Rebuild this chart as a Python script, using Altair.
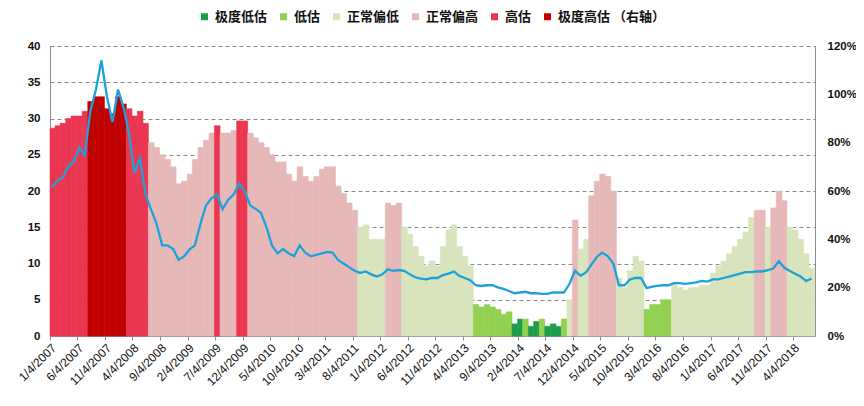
import altair as alt
import pandas as pd

# monthly readings, Jan 2007 .. Jul 2018
pe = [20.5, 21.5, 21.8, 23.4, 24.0, 26.0, 25.0, 31.0, 34.0, 38.0, 33.0, 29.5,
      34.0, 31.5, 28.0, 22.5, 24.5, 19.5, 17.5, 15.5, 12.5, 12.5, 12.0, 10.5,
      11.0, 12.0, 12.5, 15.5, 18.0, 19.0, 19.5, 17.5, 18.8, 19.5, 21.0, 20.0,
      18.0, 17.5, 17.0, 15.0, 12.5, 11.4, 12.0, 11.4, 11.0, 12.5, 11.5, 11.0,
      11.2, 11.4, 11.6, 11.5, 10.5, 10.0, 9.5, 9.0, 8.7, 8.9, 8.5, 8.2,
      8.5, 9.2, 9.0, 9.1, 9.0, 8.5, 8.1, 7.9, 7.8, 8.0, 8.0, 8.4,
      8.6, 8.9, 8.3, 8.0, 7.7, 7.0, 6.9, 7.0, 7.0, 6.7, 6.5, 6.2,
      5.9, 6.0, 6.1, 5.9, 5.9, 5.8, 5.8, 6.0, 6.0, 6.0, 7.2, 9.0,
      8.3, 8.8, 9.8, 10.9, 11.5, 11.0, 10.0, 7.0, 7.0, 7.8, 8.0, 8.0,
      6.6, 6.8, 6.9, 7.0, 7.0, 7.3, 7.3, 7.2, 7.3, 7.4, 7.6, 7.5,
      7.8, 7.8, 8.0, 8.2, 8.4, 8.6, 8.8, 8.8, 8.9, 8.9, 9.1, 9.3,
      10.3, 9.4, 9.0, 8.6, 8.2, 7.6, 7.9]

pct = [86, 87, 88, 90, 91, 91, 93, 97, 99, 99, 94, 92,
       99, 96, 94, 91, 93, 88, 80, 78, 75, 73, 70, 63,
       64, 67, 73, 78, 81, 84, 87, 84, 84, 85, 89, 89,
       84, 82, 80, 78, 75, 72, 72, 67, 64, 70, 66, 64,
       66, 69, 70, 70, 62, 59, 55, 52, 45, 46, 40, 40,
       40, 55, 54, 55, 45, 42, 37, 33, 29, 31, 29, 37,
       44, 46, 37, 33, 29, 13, 12, 13, 12, 11, 9, 10,
       5, 7, 7, 4, 6, 7, 4, 5, 4, 7, 15, 48,
       36, 40, 58, 64, 67, 66, 60, 24, 20, 27, 33, 31,
       11, 13, 13, 15, 15, 22, 20, 19, 20, 20, 21, 21,
       26, 29, 31, 34, 37, 40, 43, 49, 52, 52, 45, 53,
       60, 56, 45, 44, 40, 34, 28]

state_codes = ("EEEEEEEFFFFF" "FFEEEEDDDDDD" "DDDDDDEDDDEE" "DDDDDDDDDDDD"
               "DDDDDDDDCCCC" "CDDDCCCCCCCC" "CCCCCBBBBBBB" "AABAABAAABCD"
               "CCDDDDDCCCCC" "BBBBBCCCCCCC" "CCCCCCCCDDCD" "DDCCCCC")

state_names = {"A": "极度低估", "B": "低估", "C": "正常偏低",
               "D": "正常偏高", "E": "高估", "F": "极度高估 （右轴）"}
state_order = ["极度低估", "低估", "正常偏低", "正常偏高", "高估", "极度高估 （右轴）"]
state_colors = ["#1e9e4a", "#92d050", "#d8e4bc", "#e6b9b8", "#ea3650", "#c00000"]

n = len(pe)
starts = pd.date_range("2007-01-01", periods=n, freq="MS")
ends = starts + pd.DateOffset(months=1)
starts = starts.where(starts > pd.Timestamp("2007-01-04"), pd.Timestamp("2007-01-04"))
mids = pd.date_range("2007-01-01", periods=n, freq="MS") + pd.Timedelta(days=14)

df = pd.DataFrame({
    "start": starts.strftime("%Y-%m-%dT00:00:00"),
    "end": ends.strftime("%Y-%m-%dT00:00:00"),
    "mid": mids.strftime("%Y-%m-%dT00:00:00"),
    "pe": pe,
    "pct": pct,
    "state": [state_names[c] for c in state_codes],
})

tick_dates = pd.date_range("2007-01-04", periods=28, freq=pd.DateOffset(months=5))
tick_values = [alt.DateTime(year=d.year, month=d.month, date=d.day) for d in tick_dates]

xscale = alt.Scale(domain=[alt.DateTime(year=2007, month=1, date=4),
                           alt.DateTime(year=2018, month=8, date=3)], nice=False)


def make_xaxis():
    return alt.Axis(values=tick_values, format="%-m/%-d/%Y", labelAngle=-45,
                    labelFontSize=12, labelFont="Liberation Sans", labelColor="#111",
                    labelFontWeight="normal", grid=False, domainColor="#8c8c8c",
                    tickColor="#8c8c8c", tickSize=4, title=None, labelPadding=2,
                    labelOverlap=False, labelBound=False, labelFlush=False,
                    labelSeparation=0)


bars = alt.Chart(df).mark_rect(strokeWidth=0.6).encode(
    x=alt.X("start:T", scale=xscale, axis=make_xaxis()),
    x2="end:T",
    y=alt.Y("pct:Q", scale=alt.Scale(domain=[0, 120], nice=False),
            axis=alt.Axis(orient="right", values=[0, 20, 40, 60, 80, 100, 120],
                          labelExpr="datum.value + '%'", grid=False, ticks=False,
                          domainColor="#8c8c8c", labelPadding=12, title=None)),
    y2=alt.datum(0),
    color=alt.Color("state:N", scale=alt.Scale(domain=state_order, range=state_colors),
                    sort=state_order,
                    legend=alt.Legend(title=None, orient="none", direction="horizontal",
                                      legendX=148, legendY=-36, symbolType="square",
                                      symbolSize=49, symbolStrokeWidth=0,
                                      labelFontSize=13, labelFontWeight="bold",
                                      labelFont="Noto Sans CJK SC", labelColor="#111",
                                      columnPadding=9, labelOffset=4)),
    stroke=alt.Stroke("state:N", scale=alt.Scale(domain=state_order, range=state_colors),
                      legend=None),
)

line = alt.Chart(df).mark_line(color="#1da1db", strokeWidth=2.3).encode(
    x=alt.X("mid:T", scale=xscale, axis=make_xaxis()),
    y=alt.Y("pe:Q", scale=alt.Scale(domain=[0, 40], nice=False),
            axis=alt.Axis(orient="left", values=[0, 5, 10, 15, 20, 25, 30, 35, 40],
                          grid=True, gridDash=[4, 3], gridColor="#8a8a8a",
                          gridWidth=1, ticks=False, domainColor="#8c8c8c",
                          labelPadding=10, title=None)),
)

chart = alt.layer(bars, line).resolve_scale(y="independent", color="independent", stroke="independent").properties(
    width=765, height=290,
    autosize=alt.AutoSizeParams(type="none"),
    padding={"left": 42, "top": 38, "right": 41, "bottom": 62},
).configure_view(stroke=None).configure_axis(
    labelFontSize=11.5, labelFontWeight="bold", labelFont="Liberation Sans",
    labelColor="#111",
)

chart.save("out.html", embed_options={"renderer": "svg", "actions": False})
